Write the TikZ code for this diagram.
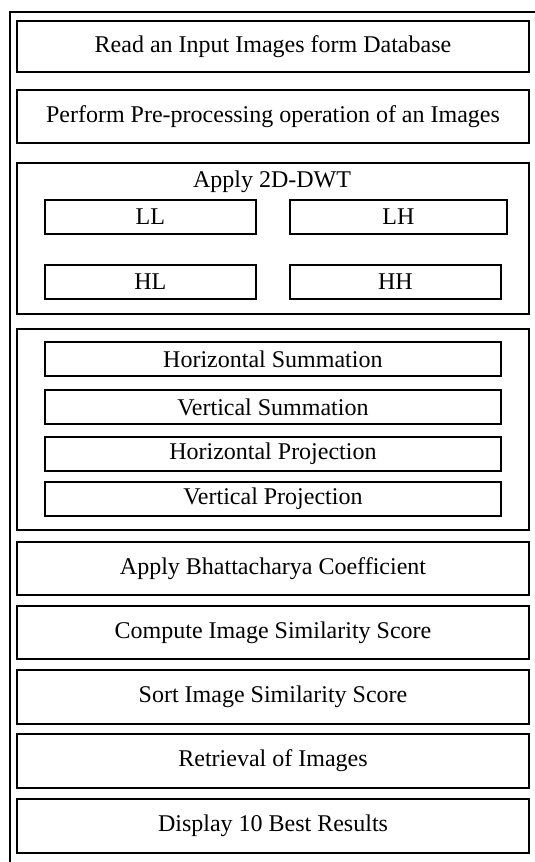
\documentclass[tikz,border=0pt]{standalone}
\usepackage{fontspec}
\setmainfont{Liberation Serif}
\begin{document}
\begin{tikzpicture}[x=1pt,y=-1pt,
  txt/.style={font=\fontsize{24}{26}\selectfont},
  stage/.style={draw, line width=2pt, inner sep=0pt, minimum width=512pt, minimum height=#1, anchor=north west, txt},
  stage/.default=51pt,
  group/.style={draw, line width=2pt, inner sep=0pt, minimum width=512pt, minimum height=#1, anchor=north west},
  band/.style={draw, line width=1.8pt, inner sep=0pt, minimum height=34pt, anchor=north west, txt}]
\useasboundingbox (0,0) rectangle (535,862);
% outer frame (only left and top edges inside the page)
\coordinate (fa) at (9.5,862);
\coordinate (fb) at (9.5,11.5);
\coordinate (fc) at (540,11.5);
\draw[line width=2pt] (fa) -- (fb) -- (fc);

\node[stage] (read) at (16,20) {Read an Input Images form Database};
\node[stage=53pt] (pre) at (16,89) {Perform Pre-processing operation of an Images};

% wavelet decomposition group
\node[group=151pt] (dwt) at (16,162) {};
\node[txt, anchor=base, inner sep=0pt] (dwtlabel) at (272,187) {Apply 2D-DWT};
\node[band, minimum width=211pt] (ll) at (44,199) {LL};
\node[band, minimum width=217pt] (lh) at (289,199) {LH};
\node[band, minimum width=211pt] (hl) at (44,264) {HL};
\node[band, minimum width=211pt] (hh) at (289,264) {HH};

% summation / projection group
\node[group=201pt] (feat) at (16,328) {};
\node[band, minimum width=456pt] (hs) at (44,341) {Horizontal Summation};
\node[band, minimum width=456pt] (vs) at (44,389) {Vertical Summation};
\node[band, minimum width=456pt] (hp) at (44,436) {Horizontal Projection};
\node[band, minimum width=456pt] (vp) at (44,481) {Vertical Projection};

\node[stage=53pt] (bc) at (16,541) {Apply Bhattacharya Coefficient};
\node[stage=53pt] (cs) at (16,605) {Compute Image Similarity Score};
\node[stage=54pt] (ss) at (16,669) {Sort Image Similarity Score};
\node[stage=54pt] (ret) at (16,733) {Retrieval of Images};
\node[stage=54pt] (disp) at (16,798) {Display 10 Best Results};
\end{tikzpicture}
\end{document}
